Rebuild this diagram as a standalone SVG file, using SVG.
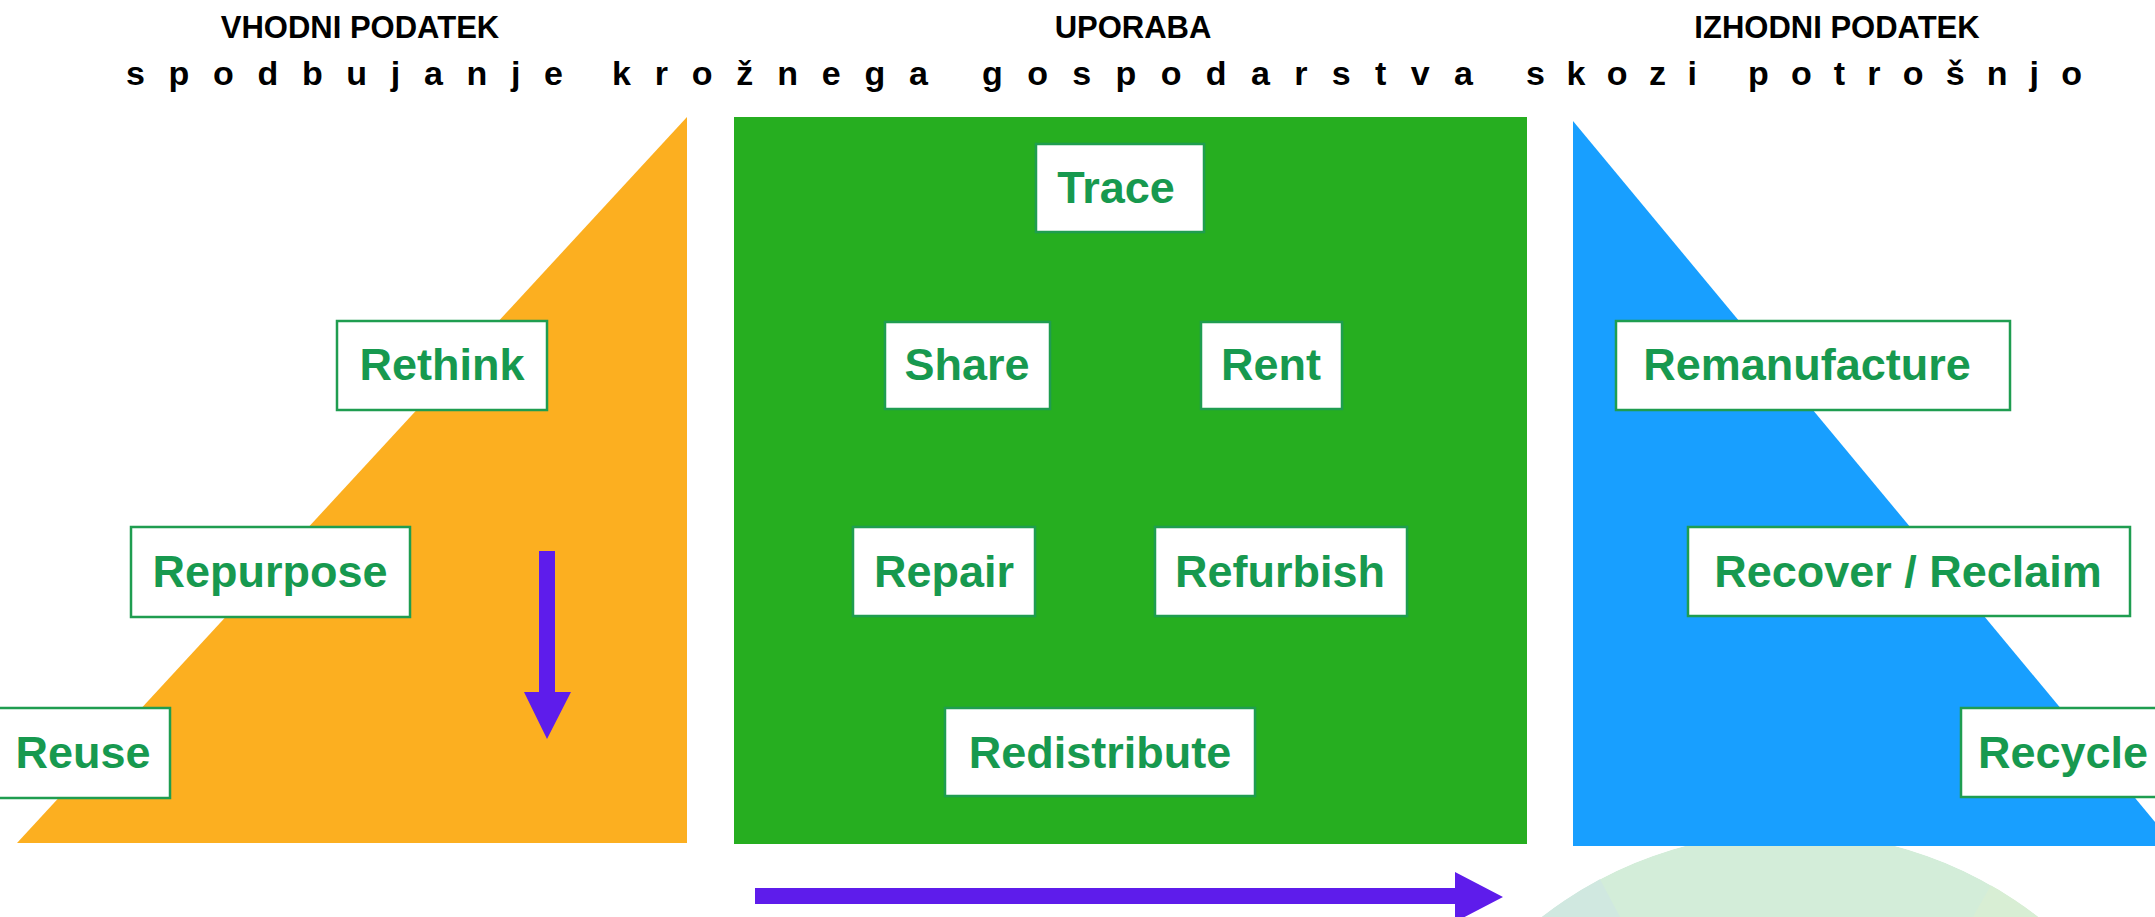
<svg xmlns="http://www.w3.org/2000/svg" width="2155" height="917" viewBox="0 0 2155 917">
<style>
.hdr{font-family:"Liberation Sans",Arial,sans-serif;font-weight:bold;font-size:31px;fill:#000;text-anchor:middle}
.sp{font-family:"Liberation Sans",Arial,sans-serif;font-weight:bold;font-size:34px;fill:#000}
.box{fill:#fff;stroke:#1f9d50;stroke-width:2.5}
.lbl{font-family:"Liberation Sans",Arial,sans-serif;font-weight:bold;font-size:45px;fill:#17994f;text-anchor:middle}
.arr{fill:#5e1ceb}
</style>
<defs>
<clipPath id="cc"><circle cx="1790" cy="1237" r="405"/></clipPath>
</defs>
<rect width="2155" height="917" fill="#fff"/>
<g id="titles">
<text class="hdr" x="360" y="38">VHODNI PODATEK</text>
<text class="hdr" x="1133" y="38">UPORABA</text>
<text class="hdr" x="1837" y="38">IZHODNI PODATEK</text>
<text class="sp" x="126" y="85" textLength="437" lengthAdjust="spacing">s p o d b u j a n j e</text>
<text class="sp" x="612" y="85" textLength="316" lengthAdjust="spacing">k r o ž n e g a</text>
<text class="sp" x="982" y="85" textLength="491" lengthAdjust="spacing">g o s p o d a r s t v a</text>
<text class="sp" x="1526" y="85" textLength="171" lengthAdjust="spacing">s k o z i</text>
<text class="sp" x="1748" y="85" textLength="334" lengthAdjust="spacing">p o t r o š n j o</text>
</g>
<g id="background">
<g clip-path="url(#cc)">
<circle cx="1790" cy="1237" r="405" fill="#d3edd9"/>
<polygon points="1790,1237 1226,175 900,175 900,1237" fill="#d0e8e0"/>
<polygon points="1790,1237 2390,187 2700,187 2700,1237" fill="#d8eed4"/>
</g>
<polygon id="input" points="17,843 687,117 687,843" fill="#fcaf20"/>
<rect id="use" x="734" y="117" width="793" height="727" fill="#26ae20"/>
<polygon id="output" points="1573,121 2175,846 1573,846" fill="#189fff"/>
</g>
<g id="connectors">
<polygon class="arr" points="539,551 555,551 555,692 571,692 547,739 524,692 539,692"/>
<polygon class="arr" points="755,888 1455,888 1455,872 1503,897 1455,922 1455,904 755,904"/>
</g>
<g id="trace"><rect class="box" x="1036" y="144" width="168" height="88"/><text class="lbl" x="1116" y="203">Trace</text></g>
<g id="rethink"><rect class="box" x="337" y="321" width="210" height="89"/><text class="lbl" x="442" y="380">Rethink</text></g>
<g id="share"><rect class="box" x="885" y="322" width="165" height="87"/><text class="lbl" x="967" y="380">Share</text></g>
<g id="rent"><rect class="box" x="1201" y="322" width="141" height="87"/><text class="lbl" x="1271" y="380">Rent</text></g>
<g id="remanufacture"><rect class="box" x="1616" y="321" width="394" height="89"/><text class="lbl" x="1807" y="380">Remanufacture</text></g>
<g id="repurpose"><rect class="box" x="131" y="527" width="279" height="90"/><text class="lbl" x="270" y="587">Repurpose</text></g>
<g id="repair"><rect class="box" x="853" y="527" width="182" height="89"/><text class="lbl" x="944" y="587">Repair</text></g>
<g id="refurbish"><rect class="box" x="1155" y="527" width="252" height="89"/><text class="lbl" x="1280" y="587">Refurbish</text></g>
<g id="recover"><rect class="box" x="1688" y="527" width="442" height="89"/><text class="lbl" x="1908" y="587">Recover / Reclaim</text></g>
<g id="reuse"><rect class="box" x="-3" y="708" width="173" height="90"/><text class="lbl" x="83" y="768">Reuse</text></g>
<g id="redistribute"><rect class="box" x="945" y="708" width="310" height="88"/><text class="lbl" x="1100" y="768">Redistribute</text></g>
<g id="recycle"><rect class="box" x="1961" y="708" width="204" height="89"/><text class="lbl" x="2063" y="768">Recycle</text></g>
</svg>
